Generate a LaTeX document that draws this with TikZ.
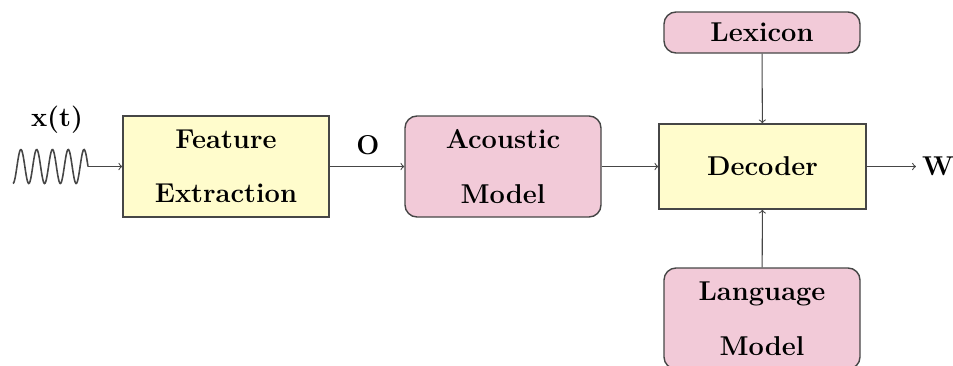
\documentclass[tikz,border=0pt]{standalone}
\usepackage{amsmath}
\usepackage{tikz}

\definecolor{boxyellow}{RGB}{255,252,204}
\definecolor{boxpink}{RGB}{242,202,216}
\definecolor{edgegray}{RGB}{70,70,70}

\newcommand{\blockfont}{\fontsize{15.5pt}{19pt}\selectfont\bfseries}

\tikzset{
  ybox/.style = {draw=edgegray, line width=0.8pt, fill=boxyellow, align=center,
                 font=\blockfont},
  pbox/.style = {draw=edgegray, line width=0.8pt, fill=boxpink, rounded corners=0.24cm,
                 align=center, font=\blockfont},
  flow/.style = {->, draw=edgegray, line width=0.6pt}
}

\begin{document}
\begin{tikzpicture}

            \useasboundingbox (0,0) rectangle (19.06,-7.3);

            % signal
            \draw[edgegray, line width=0.9pt, smooth, samples=120, domain=0:1710]
                plot ({0.26+1.5*\x/1710}, {-3.33-0.34*cos(\x)});
            \coordinate (wend) at (1.76,-3.33);
            \node[font=\blockfont] (xt) at (1.14,-2.4) {x(t)};

            % blocks
            \node[ybox, minimum width=4.12cm, minimum height=2.02cm] (feat) at (4.52,-3.33) {Feature\\[12pt]Extraction};
            \node[pbox, minimum width=3.92cm, minimum height=2.02cm] (acou) at (10.06,-3.33) {Acoustic\\[12pt]Model};
            \node[ybox, minimum width=4.14cm, minimum height=1.70cm] (dec) at (15.25,-3.33) {Decoder};
            \node[pbox, minimum width=3.92cm, minimum height=0.82cm] (lex) at (15.24,-0.65) {Lexicon};
            \node[pbox, minimum width=3.92cm, minimum height=2.02cm] (lang) at (15.24,-6.37) {Language\\[12pt]Model};

            % labels
            \node[font=\blockfont] (obs) at (7.36,-2.9) {O};
            \node[font=\blockfont] (wout) at (18.76,-3.33) {W};

            % connectors
            \draw[flow] (wend) -- (feat);
            \draw[flow] (feat) -- (acou);
            \draw[flow] (acou) -- (dec);
            \draw[flow] (dec) -- (wout);
            \draw[flow] (lex) -- (dec);
            \draw[flow] (lang) -- (dec);
        \end{tikzpicture}
\end{document}
